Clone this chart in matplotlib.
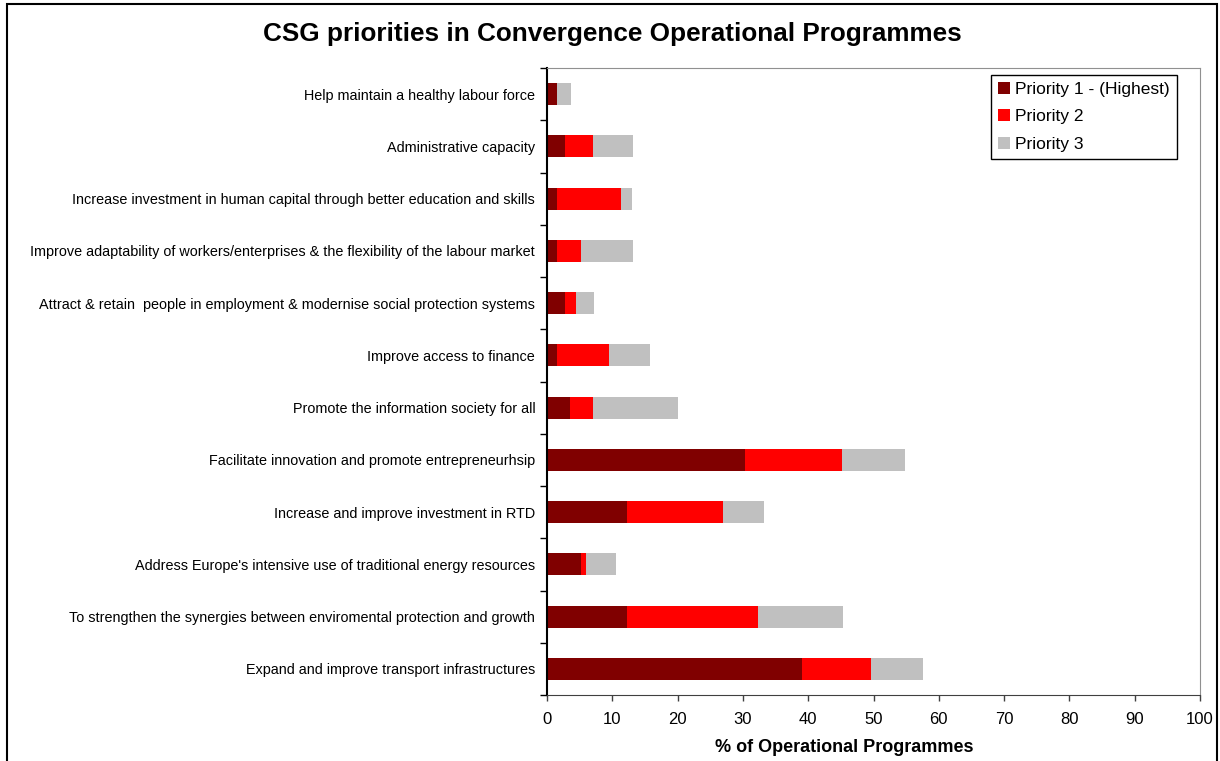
import matplotlib.pyplot as plt
from matplotlib.patches import Rectangle
import numpy as np

categorias = [
    "Help maintain a healthy labour force",
    "Administrative capacity",
    "Increase investment in human capital through better education and skills",
    "Improve adaptability of workers/enterprises & the flexibility of the labour market",
    "Attract & retain  people in employment & modernise social protection systems",
    "Improve access to finance",
    "Promote the information society for all",
    "Facilitate innovation and promote entrepreneurhsip",
    "Increase and improve investment in RTD",
    "Address Europe's intensive use of traditional energy resources",
    "To strengthen the synergies between enviromental protection and growth",
    "Expand and improve transport infrastructures",
]
prioridad1 = [1.6, 2.7, 1.6, 1.6, 2.7, 1.6, 3.5, 30.3, 12.2, 5.2, 12.2, 39.0]
prioridad2 = [0.0, 4.3, 9.7, 3.6, 1.7, 7.9, 3.5, 14.9, 14.7, 0.7, 20.1, 10.6]
prioridad3 = [2.0, 6.1, 1.7, 7.9, 2.8, 6.2, 13.0, 9.6, 6.3, 4.6, 13.0, 8.0]
series = ["Priority 1 - (Highest)", "Priority 2", "Priority 3"]
colores = ["#800000", "#ff0000", "#c0c0c0"]

plt.rcParams['font.family'] = ["Liberation Sans", "DejaVu Sans"]

fig = plt.figure(figsize=(12.2, 7.61), dpi=100)
# marco exterior del grafico
fig.patches.append(Rectangle((7 / 1220, -0.01), 1210 / 1220, 1.0 - 4 / 761 + 0.01,
                             transform=fig.transFigure, fill=False,
                             edgecolor="black", linewidth=1.5))

ax = fig.add_axes([547 / 1220, 1 - 695 / 761, (1200 - 547) / 1220, (695 - 68) / 761])

y = np.arange(len(categorias))
p1 = np.array(prioridad1)
p2 = np.array(prioridad2)
p3 = np.array(prioridad3)
ax.barh(y, p1, height=0.42, color=colores[0], label=series[0])
ax.barh(y, p2, height=0.42, left=p1, color=colores[1], label=series[1])
ax.barh(y, p3, height=0.42, left=p1 + p2, color=colores[2], label=series[2])

ax.set_ylim(len(categorias) - 0.5, -0.5)
ax.set_xlim(0, 100)
ax.set_xticks(np.arange(0, 101, 10))
ax.set_yticks(y)
ax.set_yticklabels(categorias, fontsize=10.4)
ax.tick_params(axis='y', length=0, pad=8.5)
ax.set_yticks(np.arange(-0.5, len(categorias), 1), minor=True)
ax.tick_params(axis='y', which='minor', length=5, width=1, color='black')
ax.tick_params(axis='x', length=4, width=1, color='#404040', labelsize=12, pad=8)

ax.spines['left'].set_color('black')
ax.spines['left'].set_linewidth(1.5)
ax.spines['bottom'].set_color('#404040')
ax.spines['top'].set_color('#909090')
ax.spines['right'].set_color('#909090')

fig.text(844 / 1220, 1 - 748 / 761, "% of Operational Programmes",
         ha='center', va='center', fontsize=13, fontweight='bold')
fig.text(612 / 1220, 1 - 34 / 761, "CSG priorities in Convergence Operational Programmes",
         ha='center', va='center', fontsize=18.8, fontweight='bold')

leg = ax.legend(loc='upper right', bbox_to_anchor=(1177 / 1220, 1 - 75 / 761),
                bbox_transform=fig.transFigure, borderaxespad=0, fancybox=False,
                framealpha=1, edgecolor='black', fontsize=12.5, handlelength=0.7,
                handleheight=0.7, handletextpad=0.3, labelspacing=0.7, borderpad=0.4)
leg.get_frame().set_linewidth(1.0)

fig.savefig("out.png", dpi=100)
